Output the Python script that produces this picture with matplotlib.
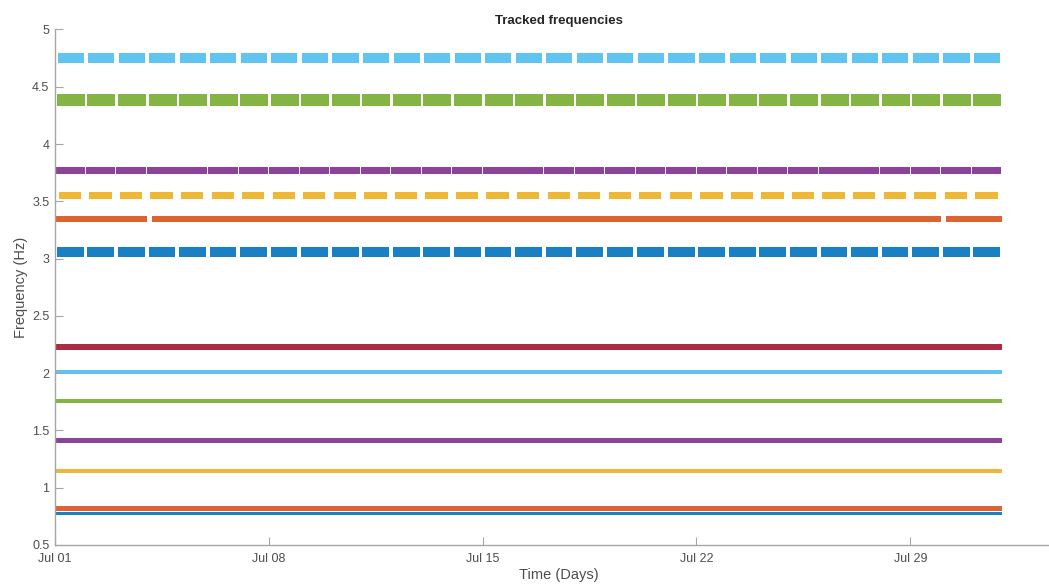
#!/usr/bin/env python3

# Plot tracked modal frequencies over one month
# Usage:
#   $ python3 plot.py

import matplotlib
matplotlib.use('Agg')
import matplotlib.pyplot as plt
from matplotlib.ticker import FuncFormatter


# Mean tracked frequency of each mode (Hz), lowest first
freqs = [0.775, 0.819, 1.149, 1.411, 1.755, 2.009, 2.227,
         3.058, 3.345, 3.553, 3.772, 4.386, 4.752]

# Half width of the scatter band around each frequency (Hz)
spread = [0.017, 0.02, 0.018, 0.022, 0.017, 0.02, 0.026,
          0.046, 0.025, 0.034, 0.033, 0.056, 0.045]

# Daily tracking outage: hour of day it starts, and length in hours
# (0 hours means the mode was tracked the whole time)
outage_start = [0, 0, 0, 0, 0, 0, 0, 22.5, 0, 20.5, 23.5, 23.5, 22.5]
outage_hours = [0, 0, 0, 0, 0, 0, 0, 3, 0, 6.5, 0.7, 2, 3.5]

# Odd outages for a single mode (index, from day, to day)
extra_gaps = [(8, 3.02, 3.18), (8, 29.0, 29.17)]

# Days of data, counted from Jul 01
n_days = 31
day_ticks = [0, 7, 14, 21, 28]
day_labels = ['Jul 01', 'Jul 08', 'Jul 15', 'Jul 22', 'Jul 29']
freq_ticks = [0.5, 1, 1.5, 2, 2.5, 3, 3.5, 4, 4.5, 5]


# Returns list of (start, length) spans in days where mode i was tracked
def tracked_spans(i):

  gaps = []
  if outage_hours[i] > 0:
    for d in range(-1, n_days + 1):
      g0 = d + outage_start[i] / 24.0
      gaps.append((g0, g0 + outage_hours[i] / 24.0))
  for m, g0, g1 in extra_gaps:
    if m == i:
      gaps.append((g0, g1))
  gaps.sort()

  spans = []
  t = 0.0
  for g0, g1 in gaps:
    if g1 <= 0 or g0 >= n_days:
      continue
    if g0 > t:
      spans.append((t, g0 - t))
    t = max(t, g1)
  if t < n_days:
    spans.append((t, n_days - t))

  return spans


def main():

  # Matlab default colour order
  colors = ['#0072BD', '#D95319', '#EDB120', '#7E2F8E',
            '#77AC30', '#4DBEEE', '#A2142F']

  plt.rcParams['font.family'] = ['Liberation Sans', 'DejaVu Sans']

  fig = plt.figure(figsize=(10.49, 5.85), dpi=100)
  # Axes runs a little past the right edge, like the cropped original
  ax = fig.add_axes([0.0524, 0.0684, 0.961, 0.8812])

  for i in range(len(freqs)):
    c = colors[i % len(colors)]
    spans = tracked_spans(i)
    # One band per mode, about as wide as the bulk of the scatter points
    h = 0.95 * spread[i]
    ax.broken_barh(spans, (freqs[i] - h, 2 * h), facecolor=c, alpha=0.9,
      linewidth=0)

  ax.set_xlim(0, 33)
  ax.set_ylim(0.5, 5)
  ax.set_xticks(day_ticks)
  ax.set_xticklabels(day_labels)
  ax.set_yticks(freq_ticks)
  ax.yaxis.set_major_formatter(FuncFormatter(lambda v, p: '%g' % v))

  for side in ['top', 'right']:
    ax.spines[side].set_visible(False)
  for side in ['left', 'bottom']:
    ax.spines[side].set_color('#a6a6a6')
    ax.spines[side].set_linewidth(1.0)

  ax.tick_params(direction='in', length=6, width=0.8, color='#a6a6a6',
    labelcolor='#4d4d4d', labelsize=9)
  ax.tick_params(axis='x', pad=6)
  ax.tick_params(axis='y', pad=4)

  ax.set_xlabel('Time (Days)', fontsize=10.5, color='#4d4d4d', labelpad=2)
  ax.set_ylabel('Frequency (Hz)', fontsize=10.5, color='#4d4d4d', labelpad=3)
  ax.set_title('Tracked frequencies', fontsize=9.5, fontweight='bold',
    color='#262626', pad=4)

  fig.savefig('out.png', dpi=100)


if __name__ == '__main__':
  main()
